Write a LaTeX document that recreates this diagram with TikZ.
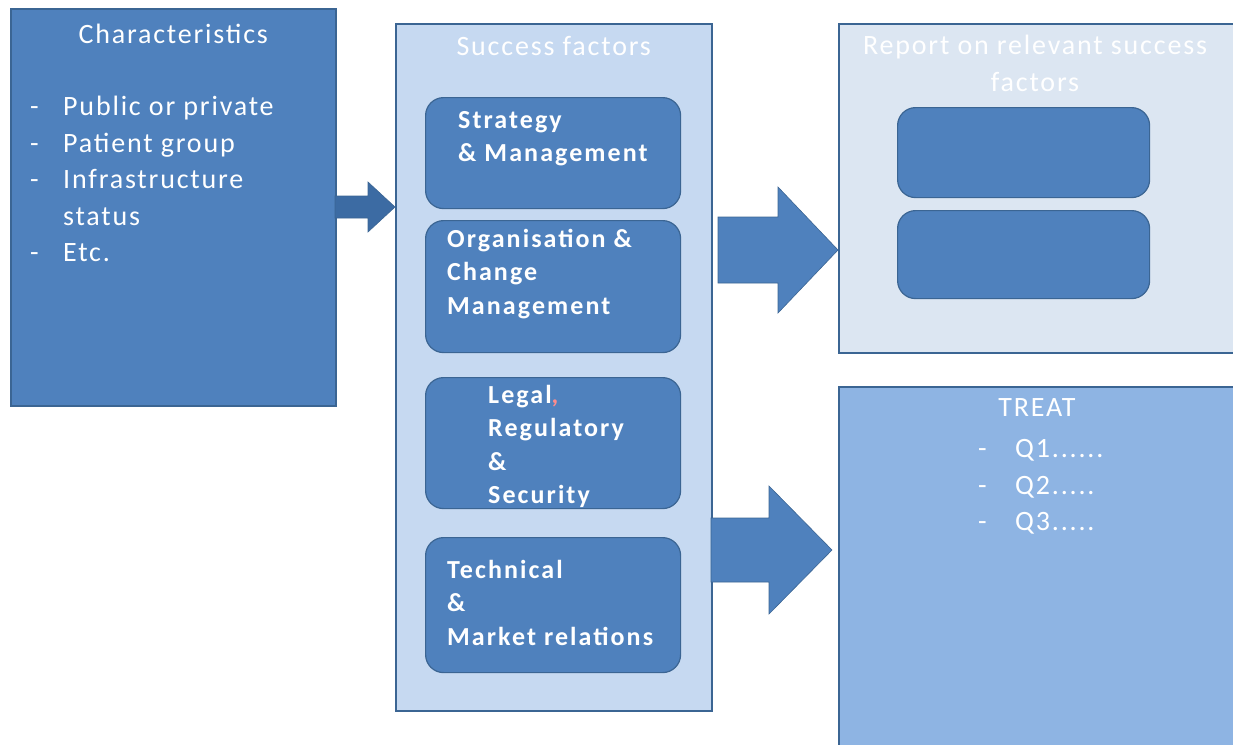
\documentclass[tikz,border=0pt]{standalone}
\usepackage{fontspec}
\usepackage{xcolor}
\setmainfont{Carlito}[LetterSpace=6.5,BoldFeatures={LetterSpace=8}]
\usetikzlibrary{positioning}

\definecolor{boxblue}{HTML}{4F81BD}
\definecolor{edgeblue}{HTML}{3B6593}
\definecolor{paleblue}{HTML}{C6D9F1}
\definecolor{greyblue}{HTML}{DCE6F2}
\definecolor{treatblue}{HTML}{8EB4E3}
\definecolor{deepblue}{HTML}{3C6BA3}

\newcommand{\plainfont}{\fontsize{28}{36.5}\selectfont}
\newcommand{\factorfont}{\fontsize{26}{33.5}\selectfont\bfseries}

\begin{document}
\begin{tikzpicture}[x=1pt,y=-1pt]
\tikzset{every node/.style={text=white}}
\tikzset{panel/.style={draw=edgeblue,line width=1.5pt,inner sep=0pt,anchor=north west}}
\tikzset{factor/.style={draw=edgeblue,line width=1.2pt,fill=boxblue,rounded corners=18pt,inner sep=0pt,anchor=north west,minimum width=255}}
\tikzset{factortext/.style={font=\factorfont,align=left,inner sep=0pt,anchor=north west}}
\tikzset{fatarrow/.style={fill=boxblue,draw=edgeblue,line width=0.6pt}}

\clip (0,0) rectangle (1233,744);

% left panel
\node[panel,fill=boxblue,minimum width=325,minimum height=397] (chars) at (10,8) {};
\node[font=\plainfont,below=13pt of chars.north] (charstitle) {Characteristics};
\node[font=\plainfont,inner sep=0pt,anchor=north west] (charlist) at (30,90)
  {\begin{tabular}{@{}p{33pt}@{}l@{}}
   - & Public or private\\
   - & Patient group\\
   - & Infrastructure\\
     & status\\
   - & Etc.
   \end{tabular}};

% success factors
\node[panel,fill=paleblue,minimum width=316,minimum height=687] (factors) at (395,23) {};
\node[font=\plainfont,below=10pt of factors.north] (factitle) {Success factors};

\node[factor,minimum height=111] (strat) at (425,97) {};
\node[factor,minimum height=132] (org) at (425,220) {};
\node[factor,minimum height=131] (legal) at (425,377) {};
\node[factor,minimum height=135] (tech) at (425,537) {};

\node[factortext,below right=14pt and 33pt of strat.north west] {Strategy\\\& Management};
\node[factortext,below right=9pt and 22pt of org.north west] {Organisation \&\\Change\\Management};
\node[factortext,below right=8pt and 63pt of legal.north west] {Legal{\color{red!45!white},}\\Regulatory\\\&\\Security};
\node[factortext,below right=23pt and 22pt of tech.north west] {Technical\\\&\\Market relations};

% report
\node[panel,fill=greyblue,minimum width=410,minimum height=329] (report) at (838,23) {};
\node[font=\plainfont,align=center,inner sep=0pt,anchor=north] (reptitle) at (1035,35)
  {Report on relevant success\\factors};
\node[factor,minimum width=252,minimum height=90] (repone) at (897,107) {};
\node[factor,minimum width=252,minimum height=88] (reptwo) at (897,210) {};

% treat
\node[panel,fill=treatblue,minimum width=410,minimum height=370] (treat) at (838,386) {};
\node[font=\plainfont,inner sep=0pt,anchor=north] (treattitle) at (1037,398) {TREAT};
\node[font=\plainfont,inner sep=0pt,anchor=north west] (treatlist) at (978,432)
  {\begin{tabular}{@{}p{37pt}@{}l@{}}
   - & Q1......\\
   - & Q2.....\\
   - & Q3.....
   \end{tabular}};

% arrows
\coordinate (intip) at (factors.west |- 0,207);
\coordinate (reptip) at (report.west |- 0,250);
\coordinate[xshift=-6pt] (treattip) at (treat.west |- 0,550);

\filldraw[fatarrow,fill=deepblue] (intip) -- ++(-27,-25) -- ++(0,14) -- ++(-33,0)
  -- ++(0,22) -- ++(33,0) -- ++(0,14) -- cycle;
\filldraw[fatarrow] (reptip) -- ++(-60,-63) -- ++(0,30) -- ++(-60,0)
  -- ++(0,66) -- ++(60,0) -- ++(0,30) -- cycle;
\filldraw[fatarrow] (treattip) -- ++(-63,-64) -- ++(0,32) -- ++(-58,0)
  -- ++(0,64) -- ++(58,0) -- ++(0,32) -- cycle;

\end{tikzpicture}
\end{document}
